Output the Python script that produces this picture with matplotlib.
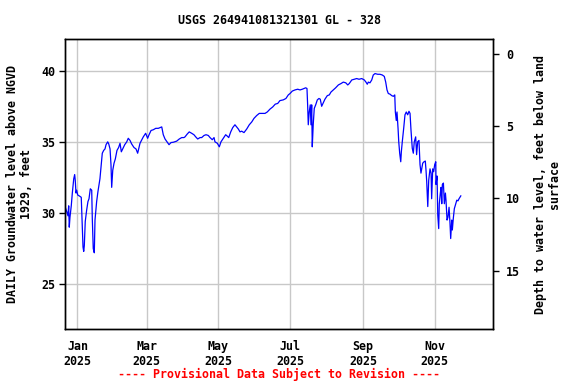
import matplotlib
matplotlib.use("Agg")
import matplotlib.pyplot as plt
import pandas as pd

# ---------------------------------------------------------------------------
# chart text
# ---------------------------------------------------------------------------
TITLE = "USGS 264941081321301 GL - 328"
LEFT_LABEL = "DAILY Groundwater level above NGVD\n1929, feet"
RIGHT_LABEL = "Depth to water level, feet below land\nsurface"
FOOTER = "---- Provisional Data Subject to Revision ----"

START = pd.Timestamp("2025-01-01")

# days since 2025-01-01 and water level (ft above NGVD 1929)
days = [
    -10.4, -9.2, -8.1, -7.5, -7.0, -6.4, -5.3, -4.4, -3.2, -2.4, -1.9, -1.3, -0.7,
    0.2, 1.5, 3.2, 3.8, 4.7, 5.3, 5.8, 6.6, 7.8, 8.9, 9.8, 10.9, 12.1, 12.6, 13.4,
    14.3, 14.9, 16.3, 17.4, 19.1, 20.3, 21.1, 22.3, 23.4, 24.3, 25.7, 26.6, 27.7,
    28.5, 29.1, 30.0, 31.1, 32.2, 33.6, 35.0, 36.2, 37.3, 38.5, 40.2, 41.9, 43.2,
    44.7, 46.1, 48.1, 49.8, 51.2, 53.2, 56.0, 58.0, 59.7, 60.9, 62.6, 64.5, 66.6,
    68.8, 70.2, 71.7, 73.0, 74.5, 76.4, 77.9, 79.6, 81.5, 84.4, 86.6, 88.7, 90.6,
    91.5, 93.4, 95.1, 97.2, 99.1, 100.6, 102.3, 104.3, 105.7, 107.7, 109.4, 111.3,
    112.8, 114.7, 116.2, 117.0, 119.0, 120.7, 122.1, 124.1, 126.1, 127.5, 128.7,
    130.4, 132.1, 134.0, 135.5, 136.9, 138.3, 139.7, 141.7, 144.0, 146.2, 148.3,
    150.2, 152.5, 154.7, 157.6, 159.6, 161.5, 163.8, 166.1, 168.3, 170.4, 172.3,
    175.1, 177.4, 179.4, 180.9, 182.8, 185.1, 187.4, 189.4, 191.3, 192.8, 194.2,
    195.3, 195.9, 196.4, 197.2, 198.1, 198.7, 199.3, 199.8, 200.6, 201.5, 202.7,
    204.1, 205.5, 206.6, 207.8, 209.2, 210.6, 212.6, 214.3, 215.7, 217.7, 219.7,
    222.0, 224.3, 226.2, 228.3, 230.0, 231.3, 233.4, 235.6, 237.6, 239.6, 241.9,
    244.1, 245.5, 246.6, 247.5, 248.9, 250.4, 251.7, 253.2, 255.5, 257.4, 259.4,
    261.1, 262.3, 263.4, 264.5, 266.0, 267.4, 268.8, 270.0, 270.5, 271.3, 271.9,
    272.8, 273.4, 274.2, 275.1, 275.6, 276.4, 277.6, 278.7, 279.8, 281.0, 282.1,
    283.0, 283.8, 284.9, 285.8, 286.6, 287.8, 288.6, 289.5, 290.6, 291.5, 292.3,
    293.8, 294.9, 296.0, 296.6, 297.2, 298.1, 298.9, 300.0, 300.9, 301.4, 302.3,
    303.1, 304.0, 304.9, 305.1, 306.0, 306.6, 307.4, 307.9, 308.8, 309.4, 310.0,
    310.5, 311.4, 312.2, 313.1, 313.6, 314.5, 315.3, 316.2, 317.0, 317.6, 318.5,
    319.0, 319.8, 320.7, 321.9, 322.8, 323.8, 324.7, 326.2,
]
levels = [
    30.4, 30.1, 29.8, 30.5, 29.0, 29.7, 30.5, 31.4, 32.4, 32.7, 32.3, 31.4, 31.6,
    31.26, 31.2, 31.1, 29.7, 27.6, 27.3, 27.7, 29.4, 30.2, 30.8, 31.0, 31.7, 31.6,
    29.6, 27.5, 27.2, 29.5, 30.8, 31.5, 32.4, 33.5, 34.2, 34.4, 34.5, 34.8, 35.0,
    34.85, 34.5, 33.4, 31.8, 33.0, 33.5, 33.8, 34.4, 34.6, 34.9, 34.3, 34.5, 34.8,
    35.0, 35.25, 35.1, 34.85, 34.6, 34.5, 34.2, 34.9, 35.35, 35.6, 35.25, 35.5,
    35.8, 35.85, 35.95, 35.95, 36.0, 36.05, 35.5, 35.2, 34.97, 34.8, 34.95, 34.97,
    35.05, 35.2, 35.3, 35.3, 35.35, 35.55, 35.7, 35.6, 35.5, 35.35, 35.2, 35.3,
    35.3, 35.45, 35.5, 35.45, 35.3, 35.15, 35.3, 35.0, 34.9, 34.65, 35.0, 35.25,
    35.5, 35.4, 35.3, 35.7, 36.0, 36.2, 36.05, 35.9, 35.7, 35.75, 35.65, 35.9,
    36.2, 36.4, 36.65, 36.85, 37.0, 37.0, 37.0, 37.1, 37.3, 37.45, 37.65, 37.7,
    37.9, 37.95, 38.05, 38.3, 38.4, 38.57, 38.65, 38.7, 38.65, 38.7, 38.75, 38.8,
    38.75, 37.5, 36.2, 37.1, 37.6, 36.2, 37.6, 34.65, 36.2, 37.35, 37.6, 37.95,
    38.05, 38.0, 37.5, 37.75, 38.0, 38.25, 38.3, 38.5, 38.65, 38.8, 39.0, 39.1,
    39.2, 39.15, 39.0, 39.1, 39.35, 39.4, 39.45, 39.4, 39.45, 39.35, 39.2, 39.05,
    39.2, 39.15, 39.35, 39.7, 39.8, 39.75, 39.75, 39.7, 39.6, 39.2, 38.65, 38.4,
    38.35, 38.25, 38.2, 38.3, 37.1, 36.5, 37.1, 35.95, 35.0, 34.2, 33.6, 34.3,
    35.0, 35.95, 36.9, 37.1, 36.9, 37.15, 37.0, 35.85, 34.55, 34.2, 35.0, 35.35,
    34.1, 35.0, 35.1, 33.4, 32.8, 33.5, 33.6, 33.65, 33.0, 32.2, 30.45, 32.3,
    33.1, 32.8, 31.0, 33.1, 32.9, 33.4, 33.6, 32.0, 32.6, 29.85, 28.9, 30.65,
    31.4, 31.8, 30.65, 32.0, 32.1, 30.65, 31.4, 30.9, 29.5, 29.7, 30.4, 29.3,
    28.2, 29.5, 28.8, 29.6, 30.3, 30.65, 30.9, 30.85, 31.0, 31.2,
]

tick_dates = ["2025-01-01", "2025-03-01", "2025-05-01", "2025-07-01", "2025-09-01", "2025-11-01"]
tick_labels = ["Jan\n2025", "Mar\n2025", "May\n2025", "Jul\n2025", "Sep\n2025", "Nov\n2025"]
level_ticks = [25, 30, 35, 40]
depth_ticks = [0, 5, 10, 15]

plt.rcParams["font.family"] = "DejaVu Sans Mono"
plt.rcParams["font.weight"] = "bold"
plt.rcParams["font.size"] = 8.4

dates = START + pd.to_timedelta(days, unit="D")

fig = plt.figure(figsize=(5.76, 3.84), dpi=100)
ax = fig.add_axes([0.1123, 0.1432, 0.7442, 0.7552])

ax.plot(dates, levels, color="#0000ff", lw=0.9)

ax.set_xlim(START + pd.Timedelta(days=-10.9), START + pd.Timedelta(days=353.9))
ax.set_ylim(21.84, 42.23)
ax.set_xticks(pd.to_datetime(tick_dates))
ax.set_xticklabels(tick_labels)
ax.set_yticks(level_ticks)
ax.grid(True, color="#c8c8c8", lw=1.0)
ax.set_axisbelow(True)
ax.tick_params(axis="both", length=4, width=1, color="black", labelsize=8.4, pad=3)
ax.tick_params(axis="x", length=0, pad=8)
for s in ax.spines.values():
    s.set_linewidth(1.0)
ax.set_ylabel(LEFT_LABEL, fontsize=8.4, fontweight="bold", labelpad=6, linespacing=1.1)

ax2 = ax.twinx()
ax2.set_ylim(19.04, -1.04)
ax2.set_yticks(depth_ticks)
ax2.tick_params(axis="y", length=4, width=1, labelsize=8.4, pad=5)
ax2.set_ylabel(RIGHT_LABEL, fontsize=8.4, fontweight="bold", labelpad=10, linespacing=1.1,
               rotation=90, ha="center")
for s in ax2.spines.values():
    s.set_linewidth(1.0)

ax.set_title(TITLE, fontsize=8.4, fontweight="bold", pad=10.5)
fig.text(0.4844, 0.024, FOOTER, color="red", ha="center", va="center",
         fontsize=8.4, fontweight="bold")

fig.savefig("out.png", dpi=100)
